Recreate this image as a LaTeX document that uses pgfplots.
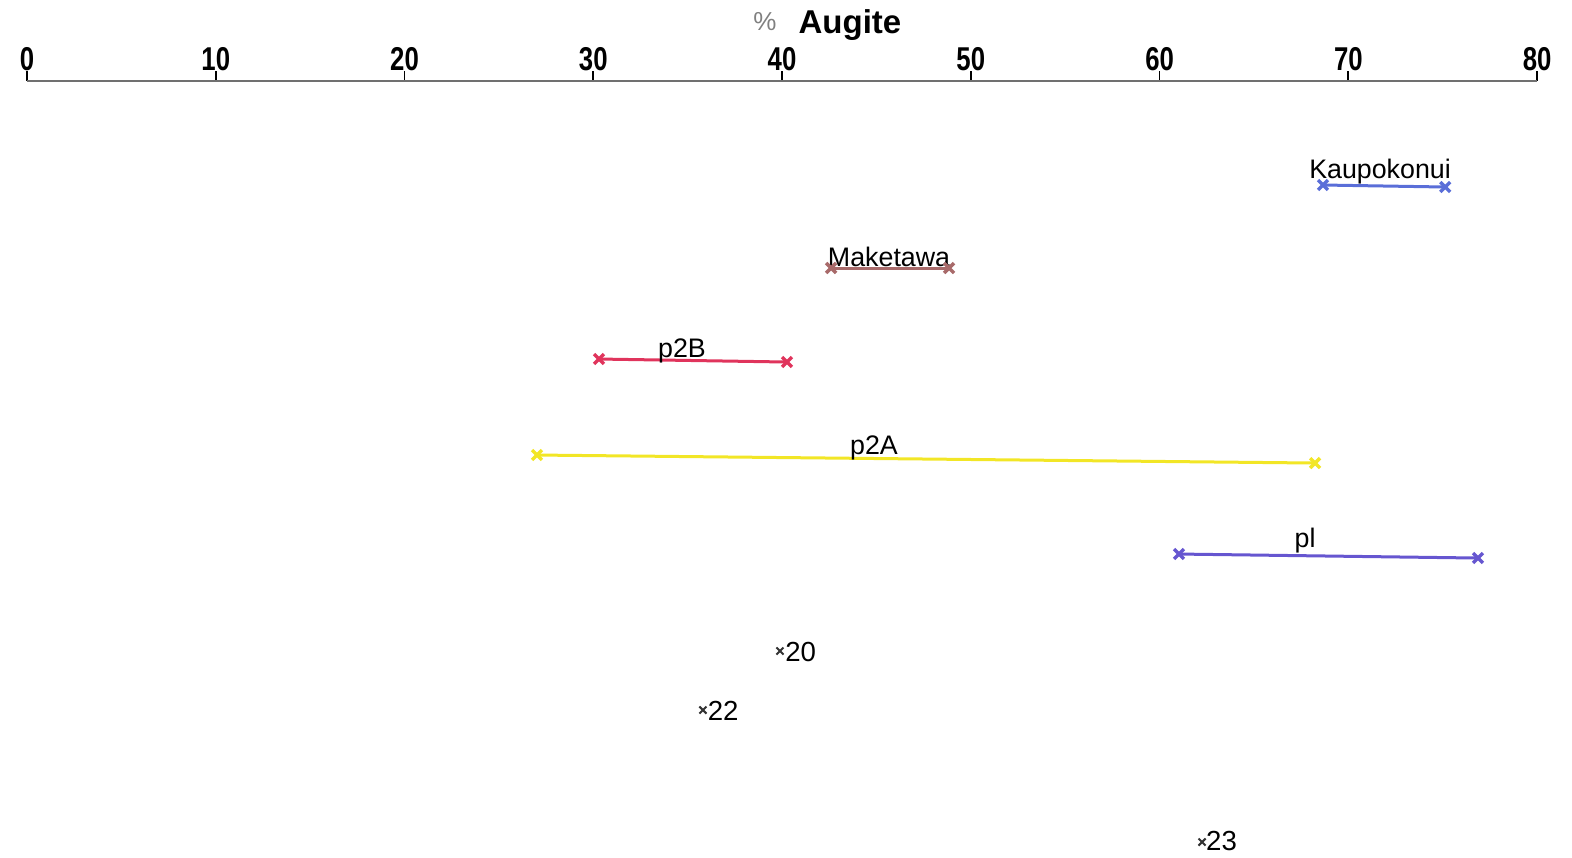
\documentclass[border=0pt]{standalone}
\usepackage{pgfplots}
\pgfplotsset{compat=1.18}
\usepackage{fontspec}
\setmainfont{Liberation Sans}
\newfontfamily\cond[FakeStretch=0.78]{Liberation Sans}
\definecolor{kaup}{HTML}{5A6ED8}
\definecolor{mak}{HTML}{A86A6A}
\definecolor{ptwob}{HTML}{E0345C}
\definecolor{ptwoa}{HTML}{F2E626}
\definecolor{pl}{HTML}{6656D0}
\definecolor{axgray}{HTML}{707070}
\begin{document}
\begin{tikzpicture}[x=1pt,y=1pt]
\begin{axis}[
  scale only axis,
  width=755pt, height=388pt,
  xmin=0, xmax=80,
  ymin=81, ymax=857, y dir=reverse,
  axis x line*=top,
  axis y line=none,
  x axis line style={axgray, line width=1pt},
  xtick={0,10,20,30,40,50,60,70,80},
  xticklabels={0,10,20,30,40,50,60,70,80},
  tick align=outside,
  major tick length=5pt,
  xtick style={black, line width=0.9pt},
  xticklabel style={font=\cond\bfseries\fontsize{16.5}{17}\selectfont, yshift=-3.5pt},
  ytick=\empty,
  clip=false,
  every axis plot/.append style={line width=1.5pt, mark=x, mark size=3.5pt, mark options={solid, line width=1.7pt}},
]
\addplot[kaup] coordinates {(68.66,185) (75.13,187)};
\addplot[mak] coordinates {(42.60,268) (48.85,268)};
\addplot[ptwob] coordinates {(30.30,359) (40.26,362)};
\addplot[ptwoa] coordinates {(27.02,455) (68.24,463)};
\addplot[pl] coordinates {(61.03,554) (76.87,558)};
\addplot[black!80, only marks, mark size=2.5pt, mark options={line width=1pt}] coordinates {(39.89,651) (35.81,710) (62.25,842)};

\node[font=\fontsize{13.4}{14}\selectfont] at (axis cs:71.68,172) {Kaupokonui};
\node[font=\fontsize{13.4}{14}\selectfont] at (axis cs:45.67,257) {Maketawa};
\node[font=\fontsize{13.4}{14}\selectfont] at (axis cs:34.70,351) {p2B};
\node[font=\fontsize{13.4}{14}\selectfont] at (axis cs:44.87,448) {p2A};
\node[font=\fontsize{13.4}{14}\selectfont] at (axis cs:67.71,541) {pl};
\node[font=\fontsize{13.8}{14}\selectfont, anchor=west, inner sep=0pt] at (axis cs:40.15,652) {20};
\node[font=\fontsize{13.8}{14}\selectfont, anchor=west, inner sep=0pt] at (axis cs:36.05,711) {22};
\node[font=\fontsize{13.8}{14}\selectfont, anchor=west, inner sep=0pt] at (axis cs:62.45,841) {23};
\node[font=\fontsize{13}{14}\selectfont, text=gray] at (axis cs:39.1,22) {\%};
\node[font=\bfseries\fontsize{16.5}{17}\selectfont] at (axis cs:43.6,25) {Augite};
\coordinate (bl) at (axis cs:-1.43,857);
\coordinate (tr) at (axis cs:81.85,0);
\end{axis}
\path (bl) rectangle (tr);
\end{tikzpicture}
\end{document}
